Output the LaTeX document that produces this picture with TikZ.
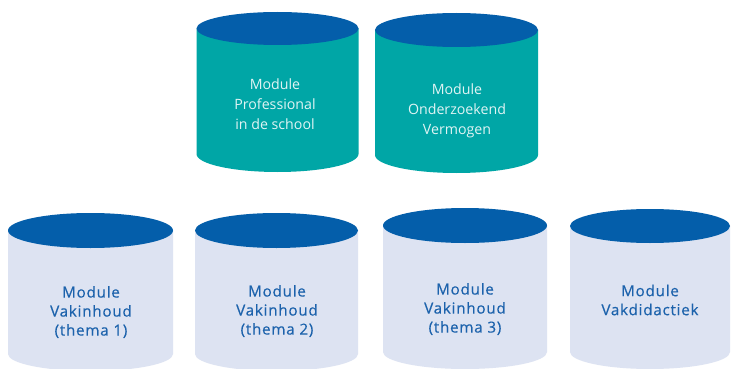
\documentclass[tikz,border=0pt]{standalone}
\usepackage{fontspec}
\setmainfont{Open Sans}
\newfontfamily\botfont[LetterSpace=5,FakeBold=0.4]{Open Sans}
\definecolor{capblue}{RGB}{4,94,170}
\definecolor{tealbody}{RGB}{0,166,166}
\definecolor{lightbody}{RGB}{221,227,242}
\definecolor{txtblue}{RGB}{28,98,172}
\definecolor{txtlight}{RGB}{224,244,244}
\newcommand{\drawcyl}[7]{%
  \fill[#7] ({#1-#4},{-#2}) -- ({#1-#4},{-#3})
    arc[start angle=180,end angle=360,x radius=#4,y radius=#6] -- ({#1+#4},{-#2}) -- cycle;
  \fill[capblue] (#1,{-#2}) ellipse[x radius=#4,y radius=#5];
}
\begin{document}
\begin{tikzpicture}[x=1pt,y=1pt,
  lbl/.style={align=center,inner sep=0pt},
  toplbl/.style={lbl,text=txtlight,font=\fontsize{14.2}{20}\selectfont},
  botlbl/.style={lbl,text=txtblue,font=\botfont\fontsize{15.2}{19}\selectfont}]
\path[use as bounding box] (0,0) rectangle (731,-369);
\clip (0,0) rectangle (731,-369);
\fill[white] (0,0) rectangle (731,-369);
% top row
\drawcyl{277.5}{28.5}{154}{81}{16.5}{18}{tealbody}
\drawcyl{456.5}{30}{155}{81.5}{17}{18}{tealbody}
% bottom row
\drawcyl{90.5}{230.5}{354}{82.5}{17.5}{17}{lightbody}
\drawcyl{276.5}{230.5}{354}{81.5}{17.5}{17}{lightbody}
\drawcyl{465}{225.5}{352}{82}{17.5}{17}{lightbody}
\drawcyl{650}{226}{352}{80}{17}{17}{lightbody}
% labels
\node[toplbl] (prof) at (275,-104.5) {Module\\Professional\\in de school};
\node[toplbl] (onder) at (457,-111) {Module\\Onderzoekend\\Vermogen};
\node[botlbl] (vak1) at (91,-312) {Module\\Vakinhoud\\(thema 1)};
\node[botlbl] (vak2) at (277,-311) {Module\\Vakinhoud\\(thema 2)};
\node[botlbl] (vak3) at (465,-309) {Module\\Vakinhoud\\(thema 3)};
\node[botlbl] (vakd) at (650,-300) {Module\\Vakdidactiek};
\end{tikzpicture}
\end{document}
